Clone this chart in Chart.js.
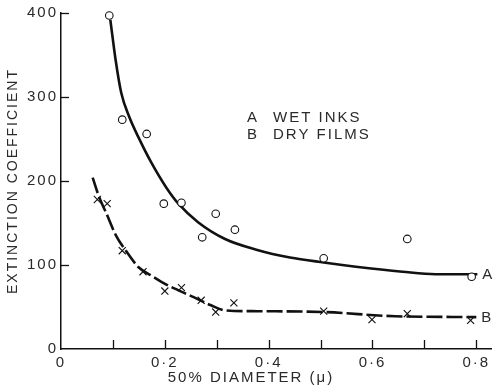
<!DOCTYPE html>
<html><head><meta charset="utf-8">
<script src="https://cdn.jsdelivr.net/npm/chart.js@4.4.1/dist/chart.umd.min.js"></script>
<style>html,body{margin:0;padding:0;background:#fff}#wrap{width:498px;height:392px;position:relative}</style>
</head><body><div id="wrap"><canvas id="c"></canvas></div>
<script>
// Measured points: A = wet inks (circles), B = dry films (crosses)
const wetInkX = [0.093, 0.118, 0.165, 0.198, 0.232, 0.272, 0.298, 0.335, 0.506, 0.667, 0.791];
const wetInkY = [397, 273, 256, 173, 174, 133, 161, 142, 108, 131, 86];
const dryFilmX = [0.070, 0.089, 0.118, 0.158, 0.200, 0.232, 0.270, 0.298, 0.333, 0.506, 0.599, 0.667, 0.789];
const dryFilmY = [178, 173, 117, 92, 69, 73, 58, 44, 55, 45, 35, 42, 34];
// Hand-drawn fitted curves
const curveAX = [0.095, 0.105, 0.116, 0.131, 0.150, 0.173, 0.203, 0.226, 0.264, 0.316, 0.378, 0.441, 0.506, 0.568, 0.658, 0.721, 0.802];
const curveAY = [392, 345, 305, 277, 251, 223, 192, 173, 151, 131, 118, 109, 103, 98, 92, 89, 89];
const curveBX = [0.061, 0.074, 0.087, 0.106, 0.125, 0.150, 0.175, 0.202, 0.251, 0.289, 0.316, 0.378, 0.506, 0.644, 0.800];
const curveBY = [204, 180, 162, 135, 117, 97, 87, 77, 63, 52, 46, 45, 44, 39, 38];
// Axes
const xTickValues = [0, 0.1, 0.2, 0.3, 0.4, 0.5, 0.6, 0.7, 0.8];
const xTickLabels = ['0', '', '0·2', '', '0·4', '', '0·6', '', '0·8'];
const yTickValues = [0, 100, 200, 300, 400];
const yTickLabels = ['0', '100', '200', '300', '400'];
const xTitle = '50% DIAMETER (\u03bc)';
const yTitle = 'EXTINCTION COEFFICIENT';
const legendLines = [['A', 'WET INKS'], ['B', 'DRY FILMS']];
const curveNames = ['A', 'B'];

const pts = (xs, ys) => xs.map((x, i) => ({x: x, y: ys[i]}));
const INK = '#111';
const TXT = '#2a2a2a';
const FONT = '"Liberation Sans", Arial, sans-serif';

const decor = {
  id: 'decor',
  beforeDraw(chart) { chart.ctx.letterSpacing = '2px'; },
  afterDraw(chart) {
    const ctx = chart.ctx, xs = chart.scales.x, ys = chart.scales.y, ca = chart.chartArea;
    ctx.save();
    ctx.strokeStyle = INK; ctx.lineWidth = 1.3;
    // inward tick marks
    xTickValues.forEach(v => { if (v === 0) return; const px = Math.round(xs.getPixelForValue(v)) + 0.5;
      ctx.beginPath(); ctx.moveTo(px, ca.bottom); ctx.lineTo(px, ca.bottom - 9); ctx.stroke(); });
    yTickValues.forEach(v => { if (v === 0) return; const py = Math.round(ys.getPixelForValue(v)) + 0.5;
      ctx.beginPath(); ctx.moveTo(ca.left, py); ctx.lineTo(ca.left + 8, py); ctx.stroke(); });
    ctx.fillStyle = TXT;
    ctx.letterSpacing = '2px';
    // x title
    ctx.font = '15px ' + FONT; ctx.textAlign = 'center'; ctx.textBaseline = 'middle';
    ctx.fillText(xTitle, ca.left + 190, 378);
    // legend text
    ctx.textAlign = 'left';
    legendLines.forEach((l, i) => {
      ctx.fillText(l[0], ca.left + 186, 118 + i * 17);
      ctx.fillText(l[1], ca.left + 212, 118 + i * 17);
    });
    // curve end labels
    [[curveAX, curveAY], [curveBX, curveBY]].forEach((c, i) => {
      const n = c[0].length - 1;
      ctx.fillText(curveNames[i], xs.getPixelForValue(c[0][n]) + 5, ys.getPixelForValue(c[1][n]) + 1);
    });
    ctx.restore();
  }
};

new Chart(document.getElementById('c'), {
  type: 'scatter',
  data: { datasets: [
    { data: pts(wetInkX, wetInkY), pointStyle: 'circle', pointRadius: 3.8, pointBorderWidth: 1.1,
      pointBorderColor: INK, pointBackgroundColor: '#fff', showLine: false, clip: false, order: 0 },
    { data: pts(dryFilmX, dryFilmY), pointStyle: 'crossRot', pointRadius: 5, pointBorderWidth: 1.1,
      pointBorderColor: INK, showLine: false, clip: false, order: 0 },
    { data: pts(curveAX, curveAY), showLine: true, pointRadius: 0, borderColor: INK, borderWidth: 2.6,
      cubicInterpolationMode: 'monotone', clip: false, order: 1 },
    { data: pts(curveBX, curveBY), showLine: true, pointRadius: 0, borderColor: INK, borderWidth: 2.6,
      borderDash: [16, 4], cubicInterpolationMode: 'monotone', clip: false, order: 1 }
  ]},
  options: {
    responsive: true, maintainAspectRatio: false, animation: false,
    layout: { padding: { top: 13, right: 0, bottom: 0, left: 0 } },
    plugins: { legend: { display: false }, tooltip: { enabled: false } },
    scales: {
      x: { type: 'linear', min: 0, max: 0.83,
        afterFit: s => { s.height = 43; },
        afterBuildTicks: s => { s.ticks = xTickValues.map(v => ({value: v})); },
        grid: { display: false, drawTicks: false },
        border: { display: true, color: INK, width: 1.5 },
        ticks: { autoSkip: false, maxRotation: 0, padding: 5, color: TXT,
          font: { family: FONT, size: 15 }, callback: (v, i) => xTickLabels[i] } },
      y: { type: 'linear', min: 0, max: 400,
        afterFit: s => { s.width = 61; },
        afterBuildTicks: s => { s.ticks = yTickValues.map(v => ({value: v})); },
        grid: { display: false, drawTicks: false },
        border: { display: true, color: INK, width: 1.5 },
        title: { display: true, text: yTitle, color: TXT, font: { family: FONT, size: 14 }, padding: { top: 5, bottom: 0 } },
        ticks: { autoSkip: false, padding: 3, color: TXT,
          font: { family: FONT, size: 15 }, callback: (v, i) => yTickLabels[i] } }
    }
  },
  plugins: [decor]
});
</script></body></html>
